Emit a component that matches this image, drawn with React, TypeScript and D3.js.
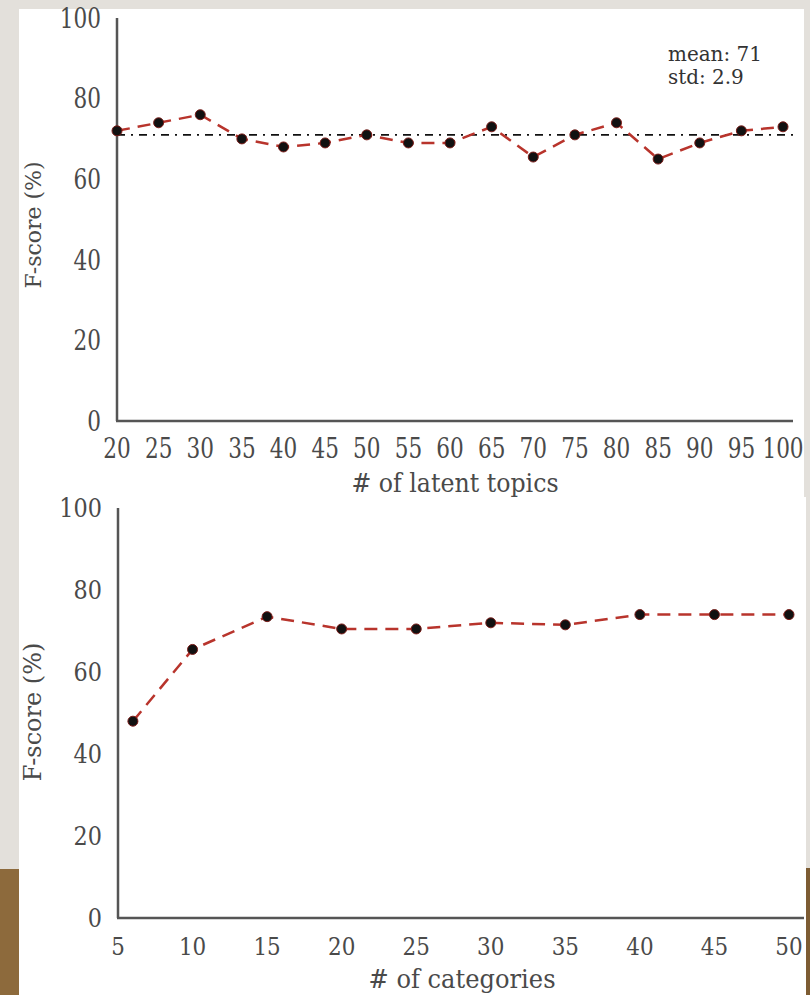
import React, { useRef, useEffect } from 'react';
import * as d3 from 'd3';

// data
const topicCounts = [20, 25, 30, 35, 40, 45, 50, 55, 60, 65, 70, 75, 80, 85, 90, 95, 100];
const topicScores = [72, 74, 76, 70, 68, 69, 71, 69, 69, 73, 65.5, 71, 74, 65, 69, 72, 73];
const topicMean = 71;
const topicStd = 2.9;

const categoryCounts = [6, 10, 15, 20, 25, 30, 35, 40, 45, 50];
const categoryScores = [48, 65.5, 73.5, 70.5, 70.5, 72, 71.5, 74, 74, 74];

const yTicks = [0, 20, 40, 60, 80, 100];
const topicTicks = [20, 25, 30, 35, 40, 45, 50, 55, 60, 65, 70, 75, 80, 85, 90, 95, 100];
const categoryTicks = [5, 10, 15, 20, 25, 30, 35, 40, 45, 50];

const FONT = '"DejaVu Serif", serif';

// text squeezed horizontally around its anchor
function addText(g, str, x, y, size, sx, anchor, fill = '#4a4a4a') {
  return g.append('text')
    .attr('transform', `translate(${x},${y}) scale(${sx},1)`)
    .attr('text-anchor', anchor)
    .attr('font-family', FONT)
    .attr('font-size', size)
    .attr('fill', fill)
    .text(str);
}

function drawPanel(svg, cfg) {
  const x = d3.scaleLinear().domain(cfg.xDomain).range(cfg.xRange);
  const y = d3.scaleLinear().domain([0, 100]).range(cfg.yRange);
  const g = svg.append('g');

  // axes (no tick marks)
  g.append('line')
    .attr('x1', x.range()[0]).attr('x2', x.range()[0])
    .attr('y1', y(100)).attr('y2', y(0))
    .attr('stroke', '#555').attr('stroke-width', 2.5);
  g.append('line')
    .attr('x1', x.range()[0] - 1).attr('x2', x.range()[1] + cfg.axisPad)
    .attr('y1', y(0)).attr('y2', y(0))
    .attr('stroke', '#555').attr('stroke-width', 2.5);

  yTicks.forEach((t) => {
    addText(g, String(t), x.range()[0] - 16, y(t) + cfg.yTickSize * 0.36, cfg.yTickSize, cfg.tickSx, 'end');
  });
  cfg.xTicks.forEach((t) => {
    addText(g, String(t), x(t), y(0) + cfg.xTickDy, cfg.xTickSize, cfg.tickSx, 'middle');
  });

  addText(g, cfg.xTitle, cfg.xTitlePos[0], cfg.xTitlePos[1], 26, cfg.titleSx, 'middle');
  g.append('text')
    .attr('transform', `translate(${cfg.yTitlePos[0]},${cfg.yTitlePos[1]}) rotate(-90)`)
    .attr('text-anchor', 'middle')
    .attr('dominant-baseline', 'central')
    .attr('font-family', FONT)
    .attr('font-size', cfg.yTitleSize)
    .attr('fill', '#4a4a4a')
    .text('F-score (%)');

  if (cfg.mean != null) {
    g.append('line')
      .attr('x1', x.range()[0]).attr('x2', x.range()[1] + cfg.axisPad)
      .attr('y1', y(cfg.mean)).attr('y2', y(cfg.mean))
      .attr('stroke', '#111').attr('stroke-width', 1.6)
      .attr('stroke-dasharray', '8,6,2,6');
  }

  const pts = cfg.xs.map((v, i) => ({ x: v, y: cfg.ys[i] }));
  const line = d3.line().x((d) => x(d.x)).y((d) => y(d.y));
  g.append('path')
    .datum(pts)
    .attr('fill', 'none')
    .attr('stroke', '#b8342c')
    .attr('stroke-width', 2.5)
    .attr('stroke-dasharray', '13,8')
    .attr('d', line);

  g.selectAll('circle.pt')
    .data(pts)
    .enter().append('circle')
    .attr('class', 'pt')
    .attr('cx', (d) => x(d.x))
    .attr('cy', (d) => y(d.y))
    .attr('r', 5)
    .attr('fill', '#111')
    .attr('stroke', '#7a1c18')
    .attr('stroke-width', 1);

  return { x, y, g };
}

export default function App() {
  const ref = useRef(null);

  useEffect(() => {
    const svg = d3.select(ref.current);
    svg.selectAll('*').remove();

    // slide background
    svg.append('rect').attr('width', 810).attr('height', 995).attr('fill', '#e3e0db');
    svg.append('rect').attr('x', 0).attr('y', 869).attr('width', 19).attr('height', 126).attr('fill', '#8d6a3c');
    svg.append('rect').attr('x', 806).attr('y', 868).attr('width', 4).attr('height', 127).attr('fill', '#7d5c33');
    svg.append('rect').attr('x', 19).attr('y', 9).attr('width', 785).attr('height', 489).attr('fill', '#fff');
    svg.append('rect').attr('x', 19).attr('y', 497).attr('width', 787).attr('height', 498).attr('fill', '#fff');

    const top = drawPanel(svg, {
      xDomain: [20, 100], xRange: [117, 783], yRange: [421, 18], axisPad: 10,
      xTicks: topicTicks, xs: topicCounts, ys: topicScores,
      yTickSize: 27, xTickSize: 27, tickSx: 0.8, xTickDy: 37,
      xTitle: '# of latent topics', xTitlePos: [455, 492], titleSx: 0.91,
      yTitlePos: [33, 225], yTitleSize: 22, mean: topicMean,
    });
    addText(top.g, `mean: ${topicMean}`, 668, 61, 21, 0.95, 'start', '#333');
    addText(top.g, `std: ${topicStd}`, 668, 84, 21, 0.95, 'start', '#333');

    drawPanel(svg, {
      xDomain: [5, 50], xRange: [118, 789], yRange: [918, 508], axisPad: 15,
      xTicks: categoryTicks, xs: categoryCounts, ys: categoryScores,
      yTickSize: 26, xTickSize: 25, tickSx: 0.86, xTickDy: 37,
      xTitle: '# of categories', xTitlePos: [462, 988], titleSx: 0.93,
      yTitlePos: [33, 712], yTitleSize: 24, mean: null,
    });
  }, []);

  return (
    <svg ref={ref} width={810} height={995}
      style={{ position: 'absolute', left: 0, top: 0, display: 'block' }} />
  );
}
